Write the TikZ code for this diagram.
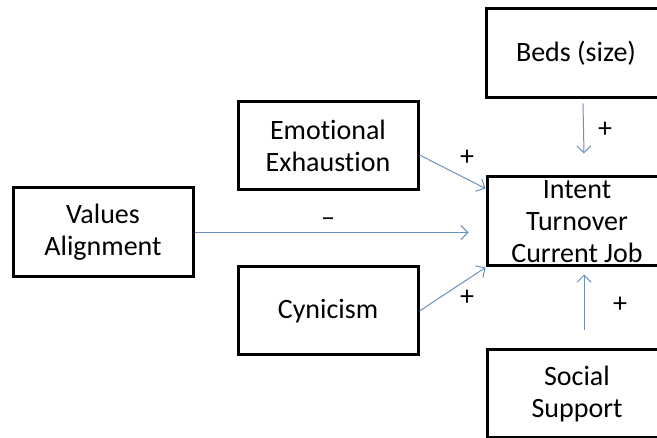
\documentclass[tikz,border=0pt]{standalone}
\usepackage{fontspec}
\setmainfont{Carlito}[Ligatures=NoCommon]
\usetikzlibrary{arrows.meta,calc}
\tikzset{
  box/.style={draw=black, line width=3pt, minimum width=180pt, minimum height=89pt, align=center, inner sep=0pt, font=\fontsize{28}{32}\selectfont},
  link/.style={draw={rgb,255:red,105;green,145;blue,190}, line width=1pt, -{Straight Barb[length=7pt,width=14pt,line width=1pt]}},
  sign/.style={font=\fontsize{28}{30}\selectfont, inner sep=0pt}
}
\begin{document}
\begin{tikzpicture}[x=1pt,y=-1pt]
\useasboundingbox (0,0) rectangle (657,438);
\clip (0,0) rectangle (657,438);
\node[box] (val) at (103,232.5) {Values\\Alignment};
\node[box, minimum height=88pt] (emo) at (328,146) {Emotional\\Exhaustion};
\node[box, minimum height=88pt] (cyn) at (328,311) {Cynicism};
\node[box] (intent) at (577,221.5) {Intent\\Turnover\\Current Job};
\node[box] (beds) at (576,53.5) {Beds (size)};
\node[box, minimum height=88pt] (soc) at (577,394) {Social\\Support};
\draw[link] ([yshift=-9pt]emo.east) -- ([yshift=-13pt]intent.north west);
\draw[link] (val.east) -- ($(val.east -| intent.west)+(-17,0)$);
\draw[link] (cyn.east) -- (intent.south west);
\draw[link] ([xshift=7pt,yshift=-4pt]beds.south) -- ([xshift=7pt,yshift=22pt]intent.north);
\draw[link] ([xshift=7pt,yshift=18pt]soc.north) -- ([xshift=7pt,yshift=-7pt]intent.south);
\node[sign] (p1) at (605,130) {+};
\node[sign] (p2) at (620,305) {+};
\node[sign] (p3) at (467,158) {+};
\node[sign] (m1) at (328,222) {–};
\node[sign] (p4) at (467,298) {+};
\end{tikzpicture}
\end{document}
